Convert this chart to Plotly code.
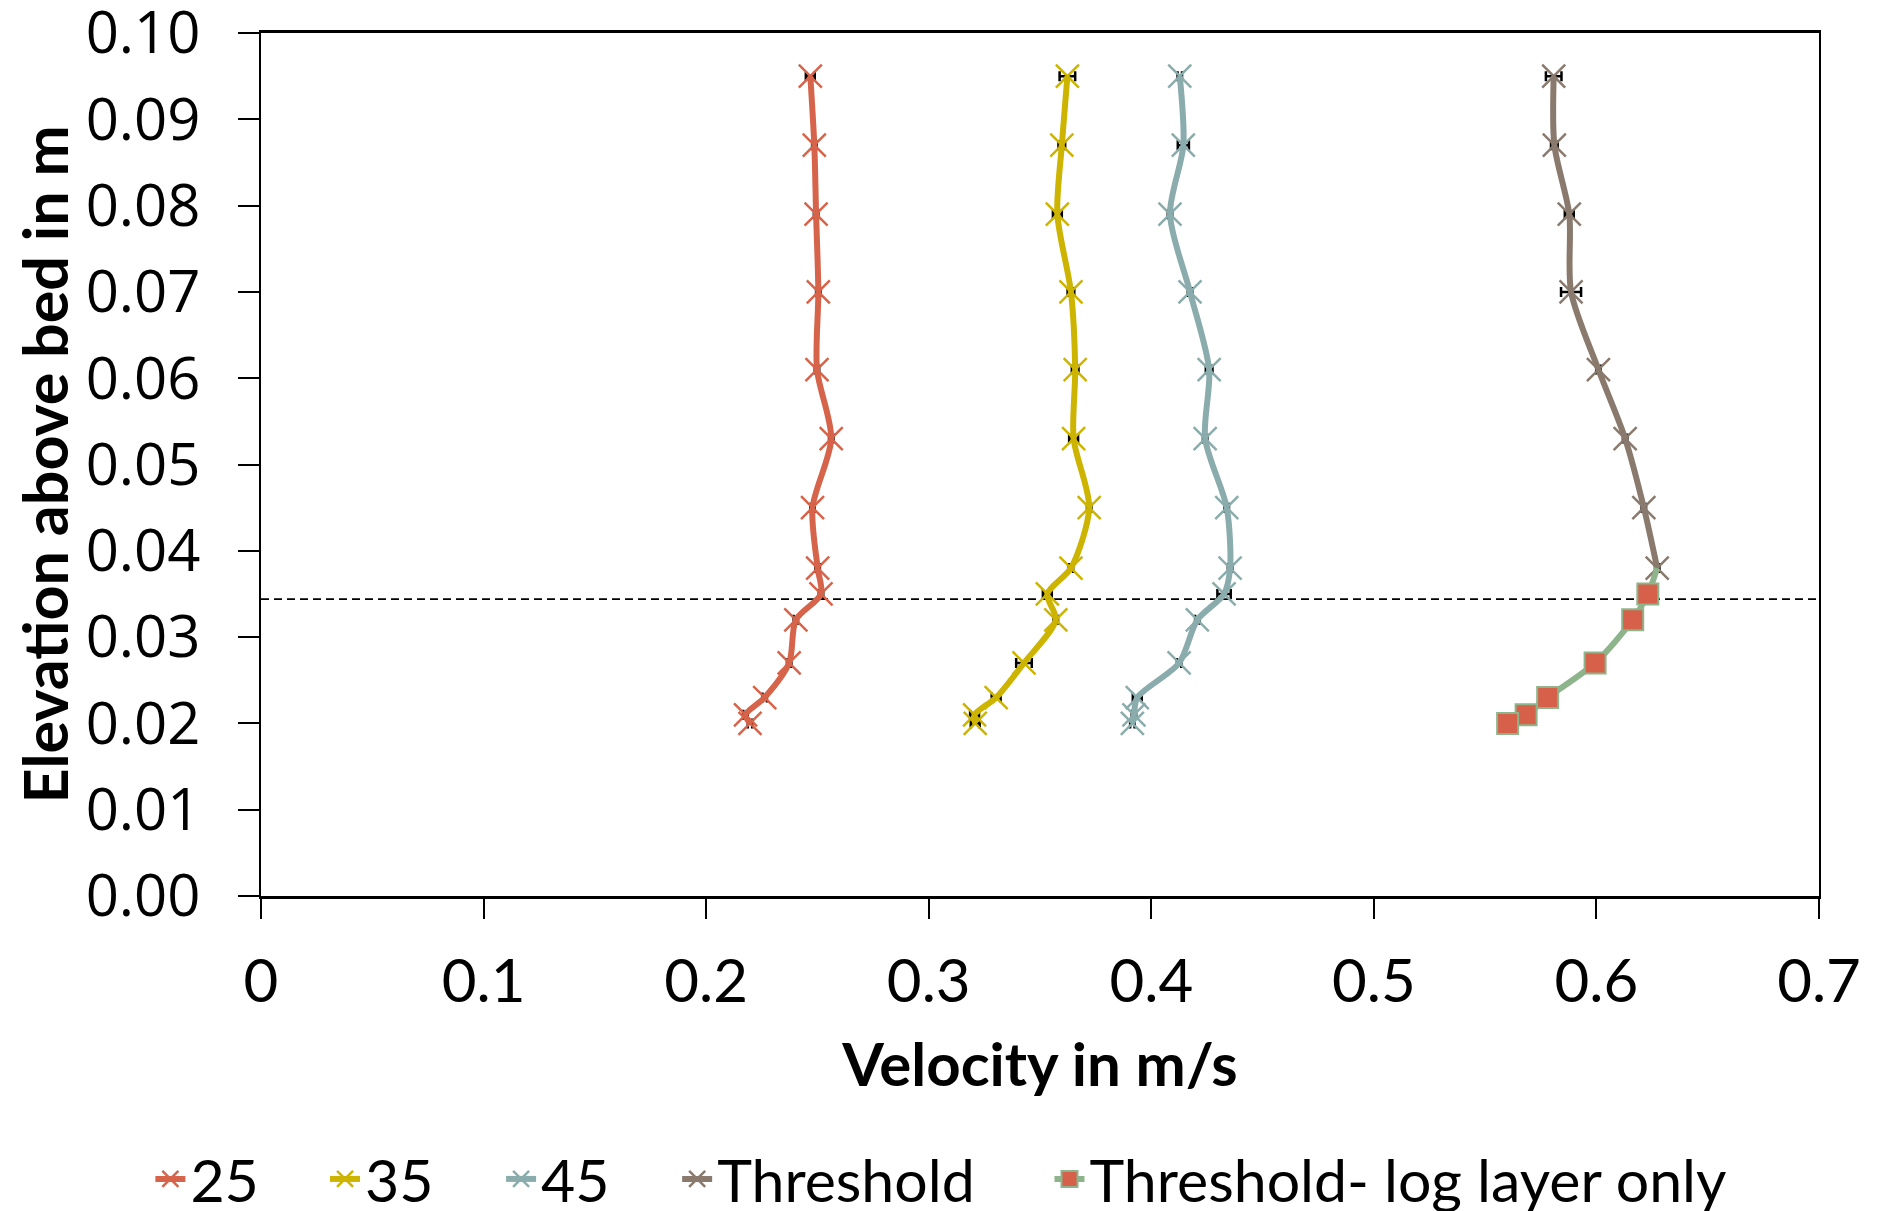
import plotly.graph_objects as go

# Elevation levels (m)
elev = [0.095, 0.087, 0.079, 0.070, 0.061, 0.053, 0.045, 0.038, 0.035, 0.032, 0.027, 0.023, 0.021, 0.020]

# Velocities (m/s)
v25 = [0.2468, 0.2486, 0.2494, 0.2504, 0.2498, 0.2562, 0.2478, 0.2501, 0.2516, 0.2403, 0.2373, 0.2263, 0.2177, 0.2197]
v35 = [0.3623, 0.3598, 0.3578, 0.3639, 0.3658, 0.3651, 0.3721, 0.3639, 0.3533, 0.3571, 0.3428, 0.3303, 0.3206, 0.3209]
v45 = [0.4128, 0.4144, 0.4084, 0.4174, 0.4260, 0.4242, 0.4339, 0.4354, 0.4327, 0.4207, 0.4125, 0.3937, 0.3922, 0.3915]
v_thr = [0.5808, 0.5811, 0.5878, 0.5886, 0.6009, 0.6129, 0.6213, 0.6273]
elev_thr = elev[:8]
# Threshold - log layer only (first point joins the threshold profile)
v_log = [0.6273, 0.6231, 0.6163, 0.5994, 0.5781, 0.5684, 0.5601]
elev_log = [0.038, 0.035, 0.032, 0.027, 0.023, 0.021, 0.020]

# Horizontal error (m/s)
e25 = [0.002, 0.001, 0.001, 0.001, 0.001, 0.001, 0.001, 0.001, 0.001, 0.001, 0.001, 0.001, 0.001, 0.001]
e35 = [0.0035, 0.0015, 0.002, 0.0015, 0.0015, 0.002, 0.001, 0.001, 0.002, 0.001, 0.0035, 0.002, 0.002, 0.002]
e45 = [0.001, 0.0025, 0.001, 0.001, 0.0015, 0.001, 0.001, 0.001, 0.003, 0.001, 0.001, 0.002, 0.001, 0.001]
e_thr = [0.0035, 0.0015, 0.002, 0.0045, 0.001, 0.001, 0.001, 0.001]

log_layer_top = 0.0344

series_names = ["25", "35", "45", "Threshold", "Threshold- log layer only"]
colors = ["#D6644A", "#CDB400", "#8BACAC", "#8A7A6E", "#8DB48A"]
square_fill = "#D6604A"

x_ticks = [0, 0.1, 0.2, 0.3, 0.4, 0.5, 0.6, 0.7]
x_ticktext = ["0", "0.1", "0.2", "0.3", "0.4", "0.5", "0.6", "0.7"]
y_ticks = [0.00, 0.01, 0.02, 0.03, 0.04, 0.05, 0.06, 0.07, 0.08, 0.09, 0.10]

# legend entry left positions (paper fraction of plot width)
legend_x = [-0.071, 0.0411, 0.1541, 0.2671, 0.5061]
legend_ids = ["legend", "legend2", "legend3", "legend4", "legend5"]

fig = go.Figure()

for i, (v, e, ys) in enumerate([(v25, e25, elev), (v35, e35, elev), (v45, e45, elev), (v_thr, e_thr, elev_thr)]):
    col = colors[i]
    fig.add_trace(go.Scatter(
        x=v, y=ys, name=series_names[i], mode="lines+markers", legend=legend_ids[i],
        line=dict(color=col, width=6, shape="spline", smoothing=0.8),
        marker=dict(symbol="x-thin-open", size=23, color=col, opacity=1, line=dict(color=col, width=2.5)),
        error_x=dict(type="data", array=e, visible=True, color="black", thickness=2.5, width=5),
    ))

fig.add_trace(go.Scatter(
    x=v_log, y=elev_log, name=series_names[4], mode="lines+markers", legend=legend_ids[4],
    line=dict(color=colors[4], width=6, shape="spline", smoothing=0.8),
    marker=dict(symbol="square", size=[0] + [21] * (len(v_log) - 1), color=square_fill, opacity=1,
                line=dict(color=colors[4], width=2)),
))

fig.add_shape(type="line", xref="x", yref="y", x0=x_ticks[0], x1=x_ticks[-1],
              y0=log_layer_top, y1=log_layer_top,
              line=dict(color="black", width=1.8, dash="8px,5px"), layer="below")

legend_common = dict(orientation="h", xanchor="left", y=-0.328, yanchor="middle",
                     font=dict(family="Lato", size=59, color="black"),
                     bgcolor="rgba(0,0,0,0)", borderwidth=0)

fig.update_layout(
    width=1871, height=1203,
    margin=dict(l=253, r=60, t=25, b=315, autoexpand=False),
    paper_bgcolor="white", plot_bgcolor="white",
    showlegend=True,
    font=dict(family="Lato", color="black"),
    **{lid: dict(x=legend_x[k], **legend_common) for k, lid in enumerate(legend_ids)},
)

fig.update_xaxes(
    range=[0, 0.7], tickvals=x_ticks, ticktext=x_ticktext,
    ticks="outside", ticklen=20, tickwidth=1.5, tickcolor="black",
    showline=True, linecolor="black", linewidth=2.5, mirror=True,
    showgrid=False, zeroline=False, automargin=False,
    tickfont=dict(family="Lato", size=60, color="black"),
    ticklabelstandoff=11, ticklabeloverflow="allow",
    title=dict(text="<b>Velocity in m/s</b>", font=dict(family="Lato", size=60, color="black"), standoff=31),
)
fig.update_yaxes(
    range=[0, 0.1], tickvals=y_ticks, tickformat=".2f",
    ticks="outside", ticklen=21, tickwidth=1.5, tickcolor="black",
    showline=True, linecolor="black", linewidth=2, mirror=True,
    showgrid=False, zeroline=False, automargin=False,
    tickfont=dict(family="Open Sans", size=58, color="black"),
    ticklabelstandoff=26, ticklabeloverflow="allow",
    title=dict(text="<b>Elevation above bed in m</b>", font=dict(family="Lato", size=61, color="black"), standoff=10),
)

fig.write_html("out.html")
